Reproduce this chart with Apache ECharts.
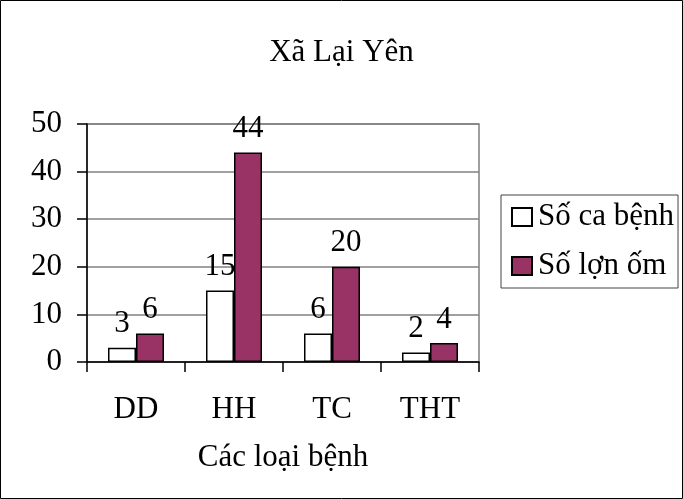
<!DOCTYPE html>
<html>
<head>
<meta charset="utf-8">
<script src="https://cdn.jsdelivr.net/npm/echarts@6/dist/echarts.min.js"></script>
<style>html,body{margin:0;padding:0;background:#fff}#c{width:683px;height:499px}</style>
</head>
<body>
<div id="c"></div>
<script>
const categories = ['DD', 'HH', 'TC', 'THT'];
const soCaBenh = [3, 15, 6, 2];
const soLonOm = [6, 44, 20, 4];
const seriesNames = ['Số ca bệnh', 'Số lợn ốm'];
const titleText = 'Xã Lại Yên';
const xAxisName = 'Các loại bệnh';

const FONT = "'Liberation Serif', 'Times New Roman', serif";
const FS = 31;
const chart = echarts.init(document.getElementById('c'), null, {renderer: 'canvas'});
const labelStyle = {show: true, position: 'top', distance: 8, color: '#000', fontFamily: FONT, fontSize: FS};
chart.setOption({
  animation: false,
  backgroundColor: '#fff',
  textStyle: {fontFamily: FONT, color: '#000'},
  graphic: [{
    type: 'rect', shape: {x: 0.5, y: 0.5, width: 682, height: 498},
    style: {fill: null, stroke: '#000', lineWidth: 1}, z: 100, silent: true
  }],
  title: {
    text: titleText, left: 'center', top: 37, padding: 0,
    textStyle: {fontFamily: FONT, fontSize: FS, fontWeight: 'normal', color: '#000'}
  },
  legend: {
    orient: 'vertical', left: 501, top: 195, width: 179,
    padding: [6, 4, 6, 10], itemGap: 17, itemWidth: 20, itemHeight: 18,
    icon: 'rect',
    borderColor: '#444', borderWidth: 1,
    textStyle: {fontFamily: FONT, fontSize: FS, color: '#000', lineHeight: 32, padding: [0, 0, 0, 1]},
    data: seriesNames
  },
  grid: {left: 87, right: 204, top: 124, bottom: 137, show: true, borderColor: '#808080', borderWidth: 1.5},
  xAxis: {
    type: 'category', data: categories,
    name: xAxisName, nameLocation: 'middle', nameGap: 80,
    nameTextStyle: {fontFamily: FONT, fontSize: FS, color: '#000'},
    axisLine: {lineStyle: {color: '#000', width: 1.5}},
    axisTick: {show: true, length: 10, inside: false, lineStyle: {color: '#000', width: 1.5}},
    axisLabel: {margin: 32, fontFamily: FONT, fontSize: FS, color: '#000'},
    splitLine: {show: false}
  },
  yAxis: {
    type: 'value', min: 0, max: 50, interval: 10,
    axisLine: {show: true, lineStyle: {color: '#000', width: 1.5}},
    axisTick: {show: true, length: 10, lineStyle: {color: '#000', width: 1.5}},
    axisLabel: {margin: 25, fontFamily: FONT, fontSize: FS, color: '#000', padding: [4, 0, 0, 0]},
    splitLine: {show: true, lineStyle: {color: '#808080', width: 1.5}}
  },
  series: [
    {
      name: seriesNames[0], type: 'bar', data: soCaBenh, barWidth: 28, barGap: '0%',
      itemStyle: {color: '#ffffff', borderColor: '#000', borderWidth: 1.5},
      label: labelStyle
    },
    {
      name: seriesNames[1], type: 'bar', data: soLonOm, barWidth: 28, barGap: '0%',
      itemStyle: {color: '#993366', borderColor: '#000', borderWidth: 1.5},
      label: labelStyle
    }
  ]
});
</script>
</body>
</html>
